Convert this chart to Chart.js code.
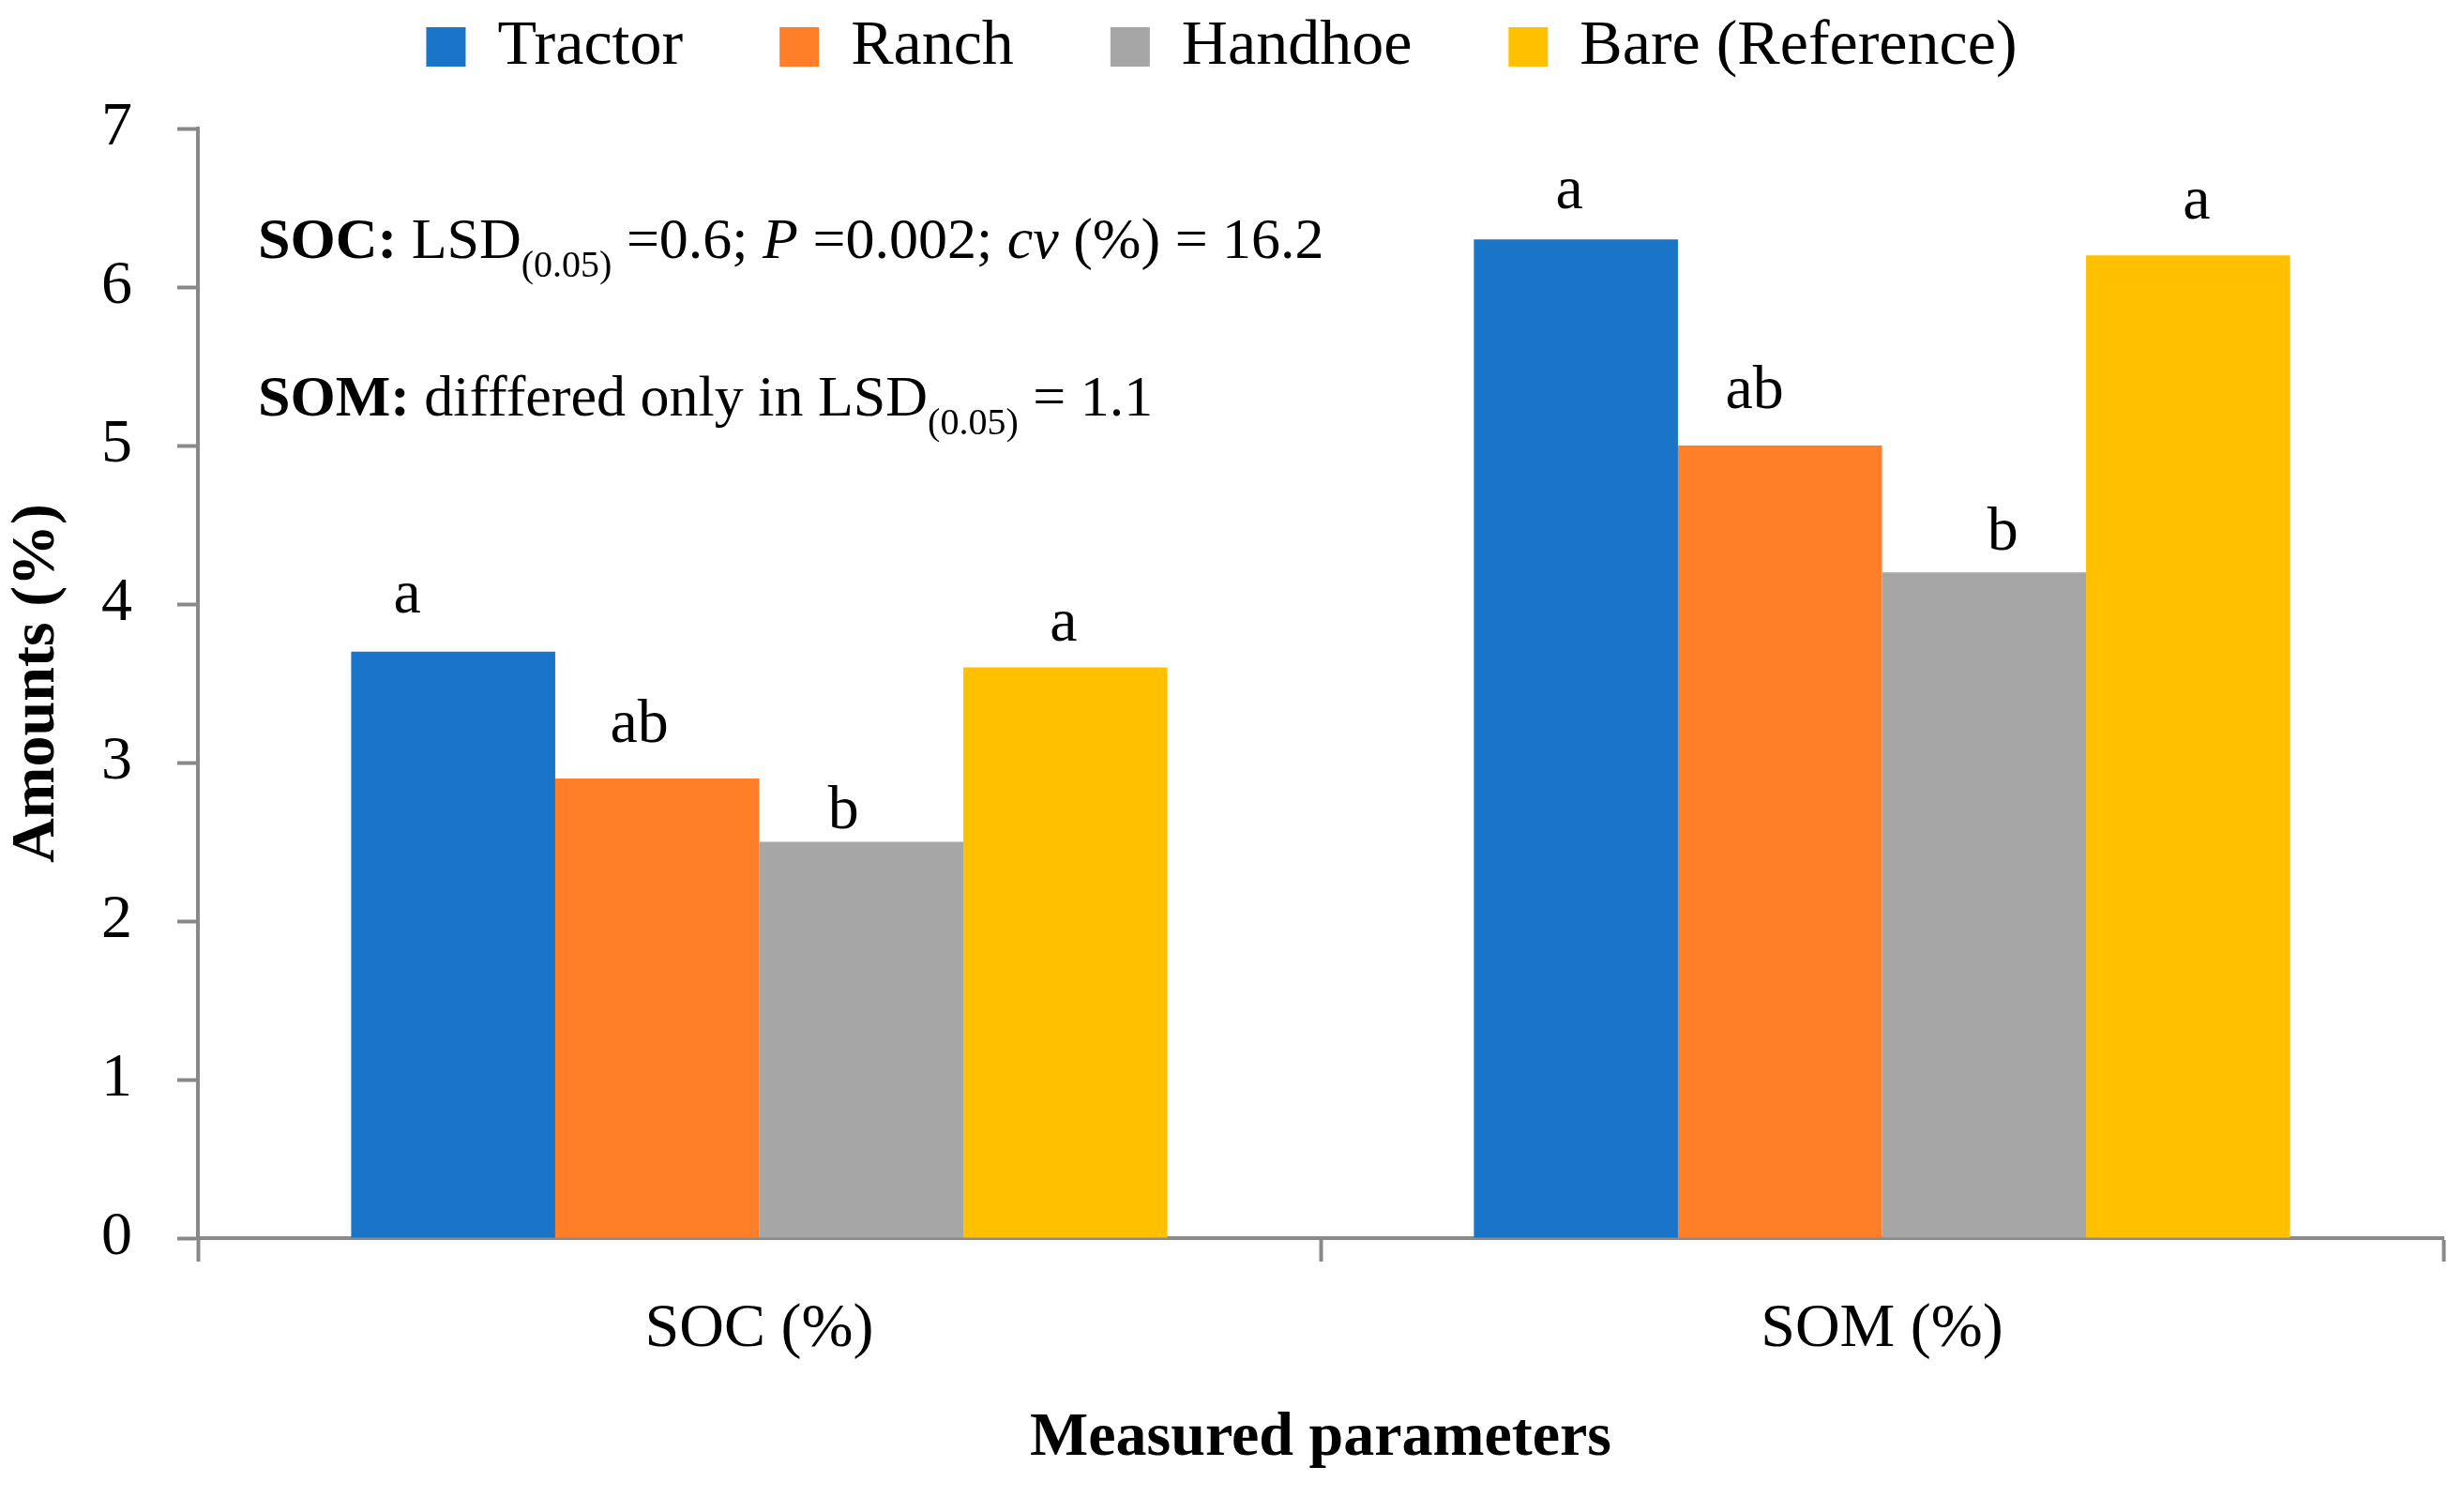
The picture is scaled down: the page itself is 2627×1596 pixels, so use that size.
<!DOCTYPE html>
<html>
<head>
<meta charset="utf-8">
<script src="https://cdn.jsdelivr.net/npm/chart.js@4.4.1/dist/chart.umd.min.js"></script>
<style>
  html, body { margin: 0; padding: 0; background: #fff; }
  #wrap { width: 2627px; height: 1596px; position: relative; }
</style>
</head>
<body>
<div id="wrap"><canvas id="chart"></canvas></div>
<script>
// data
const categories = ["SOC (%)", "SOM (%)"];
const seriesNames = ["Tractor", "Ranch", "Handhoe", "Bare (Reference)"];
const tractor = [3.7, 6.3];
const ranch = [2.9, 5.0];
const handhoe = [2.5, 4.2];
const bare = [3.6, 6.2];

// significance letters shown above each bar
const tractorLetters = ["a", "a"];
const ranchLetters = ["ab", "ab"];
const handhoeLetters = ["b", "b"];
const bareLetters = ["a", "a"];

const yMin = 0;
const yMax = 7;
const yStep = 1;

const noteLines = [
  [
    { text: "SOC:", bold: true },
    { text: " LSD" },
    { text: "(0.05)", sub: true },
    { text: " =0.6; " },
    { text: "P", italic: true },
    { text: " =0.002; " },
    { text: "cv", italic: true },
    { text: " (%) = 16.2" },
  ],
  [
    { text: "SOM:", bold: true },
    { text: " difffered only in LSD" },
    { text: "(0.05)", sub: true },
    { text: " = 1.1" },
  ],
];

const FONT = "'Liberation Serif', 'Times New Roman', serif";
const AXIS = "#898989";
const COLORS = ["#1a75c9", "#fe7f27", "#a6a6a6", "#ffc000"];

// extra room below the legend
const legendSpacer = {
  id: "legendSpacer",
  beforeInit(chart) {
    const origFit = chart.legend.fit;
    chart.legend.fit = function () {
      origFit.bind(chart.legend)();
      this.height += 43;
    };
  },
};

// letters above bars (small hand nudges as in the original figure)
const letterNudge = [
  [[-49, 42], [-7, 33]],
  [[-19, 39], [-27, 40]],
  [[-19, 15], [20, 24]],
  [[-2, 29], [9, 39]],
];

const barLetters = {
  id: "barLetters",
  afterDatasetsDraw(chart) {
    const ctx = chart.ctx;
    ctx.save();
    ctx.font = `66px ${FONT}`;
    ctx.fillStyle = "#000";
    ctx.textAlign = "center";
    ctx.textBaseline = "alphabetic";
    chart.data.datasets.forEach((ds, di) => {
      const meta = chart.getDatasetMeta(di);
      meta.data.forEach((bar, i) => {
        const n = letterNudge[di][i];
        ctx.fillText(ds.letters[i], bar.x + n[0], bar.y - n[1]);
      });
    });
    ctx.restore();
  },
};

const notes = {
  id: "notes",
  afterDraw(chart) {
    const ctx = chart.ctx;
    const area = chart.chartArea;
    const baselines = [138, 306];
    ctx.save();
    ctx.fillStyle = "#000";
    ctx.textAlign = "left";
    ctx.textBaseline = "alphabetic";
    noteLines.forEach((line, li) => {
      let x = area.left + 64;
      const y = area.top + baselines[li];
      for (const seg of line) {
        const size = seg.sub ? 40 : 62;
        const style = seg.italic ? "italic " : "";
        const weight = seg.bold ? "bold " : "";
        ctx.font = `${style}${weight}${size}px ${FONT}`;
        ctx.fillText(seg.text, x, seg.sub ? y + 20 : y);
        x += ctx.measureText(seg.text).width;
      }
    });
    ctx.restore();
  },
};

function makeDataset(label, data, letters, color) {
  return {
    label,
    data,
    letters,
    backgroundColor: color,
    borderWidth: 0,
    categoryPercentage: 0.727,
    barPercentage: 1.0,
  };
}

new Chart(document.getElementById("chart"), {
  type: "bar",
  data: {
    labels: categories,
    datasets: [
      makeDataset(seriesNames[0], tractor, tractorLetters, COLORS[0]),
      makeDataset(seriesNames[1], ranch, ranchLetters, COLORS[1]),
      makeDataset(seriesNames[2], handhoe, handhoeLetters, COLORS[2]),
      makeDataset(seriesNames[3], bare, bareLetters, COLORS[3]),
    ],
  },
  plugins: [legendSpacer, barLetters, notes],
  options: {
    responsive: true,
    maintainAspectRatio: false,
    devicePixelRatio: 1,
    animation: false,
    layout: {
      padding: { top: -87, right: 22, bottom: 0, left: 0 },
    },
    plugins: {
      legend: {
        position: "top",
        labels: {
          boxWidth: 42,
          boxHeight: 42,
          padding: 103,
          color: "#000",
          font: { family: FONT, size: 68 },
        },
      },
      tooltip: { enabled: false },
    },
    scales: {
      x: {
        offset: true,
        grid: {
          offset: true,
          drawOnChartArea: false,
          drawTicks: true,
          tickLength: 25,
          tickColor: AXIS,
          tickWidth: 4,
        },
        border: { color: AXIS, width: 4 },
        ticks: {
          color: "#000",
          padding: 33,
          font: { family: FONT, size: 66 },
        },
        title: {
          display: true,
          text: "Measured parameters",
          color: "#000",
          font: { family: FONT, size: 66, weight: "bold" },
          padding: { top: 0, bottom: 22 },
        },
        afterFit(scale) {
          scale.height = 276;
        },
      },
      y: {
        min: yMin,
        max: yMax,
        grid: {
          drawOnChartArea: false,
          drawTicks: true,
          tickLength: 22,
          tickColor: AXIS,
          tickWidth: 4,
        },
        border: { color: AXIS, width: 4 },
        ticks: {
          stepSize: yStep,
          color: "#000",
          padding: 48,
          font: { family: FONT, size: 66 },
        },
        title: {
          display: true,
          text: "Amounts (%)",
          color: "#000",
          font: { family: FONT, size: 66, weight: "bold" },
          padding: { top: 0, bottom: 0 },
        },
        afterFit(scale) {
          scale.width = 211;
        },
      },
    },
  },
});
</script>
</body>
</html>
